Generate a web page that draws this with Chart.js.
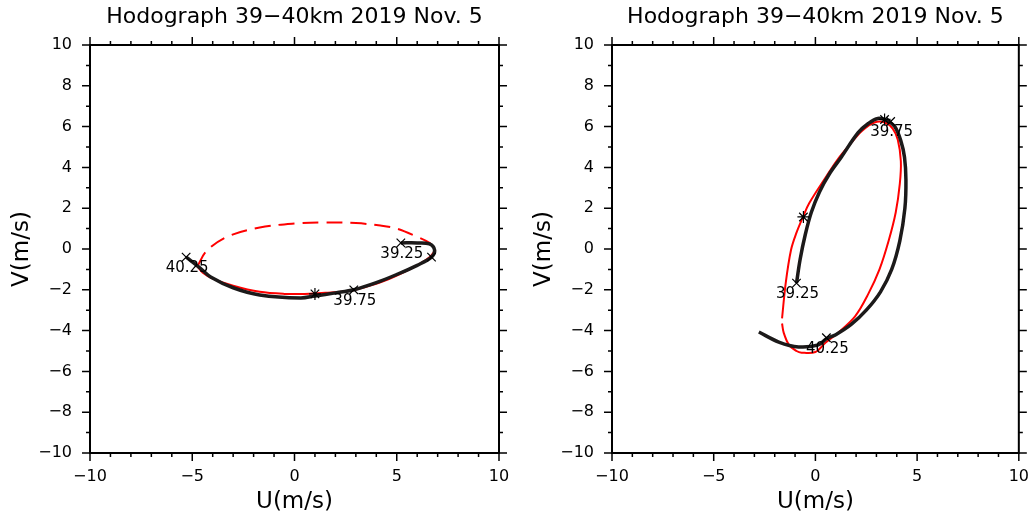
<!DOCTYPE html>
<html lang="en">
<head>
<meta charset="UTF-8">
<title>Hodograph 39-40km 2019 Nov. 5</title>
<script src="https://cdn.jsdelivr.net/npm/chart.js"></script>
<style>
  body { margin: 0; background: #fff; }
  #wrap { position: relative; width: 1035px; height: 517px; }
  #leftChart { position: absolute; left: 0; top: 0; }
  #rightChart { position: absolute; left: 517px; top: 0; }
</style>
</head>
<body>
<div id="wrap">
  <canvas id="leftChart" width="517" height="517"></canvas>
  <canvas id="rightChart" width="518" height="517"></canvas>
</div>
<script>
// ---- left panel ----
const leftBlackU = [5.2, 6.0, 6.6, 6.85, 6.7, 6.0, 5.0, 4.0, 2.9, 2.0, 1.0, 0.3, -1.7, -3.0, -4.1, -4.6, -5.3];
const leftBlackV = [0.3, 0.3, 0.25, -0.05, -0.4, -0.8, -1.25, -1.65, -2.0, -2.15, -2.3, -2.4, -2.25, -1.9, -1.37, -0.95, -0.4];
const leftRedSolidU = [6.9, 6.6, 6.0, 5.0, 4.3, 3.5, 2.7, 1.5, 0.5, -0.5, -1.7, -3.0, -4.0, -4.5, -4.75];
const leftRedSolidV = [-0.05, -0.4, -0.8, -1.3, -1.6, -1.85, -2.05, -2.15, -2.2, -2.2, -2.1, -1.8, -1.45, -1.15, -0.85];
const leftRedDashU = [-4.75, -4.3, -3.3, -1.7, 0.0, 1.4, 3.0, 4.2, 5.0, 6.0, 6.6, 6.9];
const leftRedDashV = [-0.85, -0.1, 0.6, 1.05, 1.25, 1.3, 1.27, 1.15, 1.0, 0.6, 0.3, -0.05];
const leftCrossU = [5.2, 6.7, 2.9, -5.3];
const leftCrossV = [0.3, -0.4, -2.0, -0.4];
const leftStarU = [1.0];
const leftStarV = [-2.2];
const leftLabelU = [5.2, 2.9, -5.3];
const leftLabelV = [0.3, -2.0, -0.4];
const leftLabels = ['39.25', '39.75', '40.25'];

// ---- right panel ----
const rightBlackU = [-0.93, -0.75, -0.5, -0.2, 0.2, 0.7, 1.27, 2.1, 2.6, 3.07, 3.5, 3.9, 4.2, 4.38, 4.45, 4.4, 4.15, 3.75, 3.2, 2.5, 1.76, 1.0, 0.54, 0.15, -0.83, -1.8, -2.78];
const rightBlackV = [-1.67, -0.5, 0.7, 1.8, 2.8, 3.7, 4.5, 5.7, 6.15, 6.4, 6.3, 6.0, 5.3, 4.5, 3.4, 2.0, 0.4, -1.0, -2.1, -3.0, -3.7, -4.2, -4.4, -4.7, -4.8, -4.56, -4.07];
const rightRedU = [-1.64, -1.56, -1.3, -0.93, -0.68, 0.0, 0.49, 1.12, 1.95, 2.6, 3.15, 3.6, 3.95, 4.15, 4.2, 4.05, 3.8, 3.41, 2.9, 2.3, 1.76, 1.1, 0.5, -0.3, -0.6, -0.93, -1.2, -1.46, -1.64];
const rightRedV = [-3.65, -4.1, -4.7, -5.0, -5.08, -5.05, -4.6, -4.1, -3.3, -2.2, -1.0, 0.4, 1.8, 3.2, 4.3, 5.35, 5.9, 6.2, 6.2, 5.8, 5.2, 4.4, 3.5, 2.25, 1.6, 0.8, -0.05, -1.67, -3.4];
const rightCrossU = [-0.93, 3.7, 0.54];
const rightCrossV = [-1.67, 6.25, -4.35];
const rightStarU = [-0.59, 3.4];
const rightStarV = [1.57, 6.35];
const rightLabelU = [-0.93, 3.7, 0.54];
const rightLabelV = [-1.67, 6.25, -4.35];
const rightLabels = ['39.25', '39.75', '40.25'];

const FONT = '"DejaVu Sans", sans-serif';

function pts(us, vs) {
  return us.map((u, i) => ({x: u, y: vs[i]}));
}

function fmt(v) {
  return v < 0 ? '\u2212' + Math.abs(v) : String(v);
}

// frame + outward tick marks on all four sides
const frameTicks = {
  id: 'frameTicks',
  afterDraw(chart) {
    const {ctx, chartArea: a, scales: {x, y}} = chart;
    ctx.save();
    ctx.strokeStyle = '#000';
    ctx.lineWidth = 1.5;
    ctx.beginPath();
    x.ticks.forEach(t => {
      const px = x.getPixelForValue(t.value);
      const len = t.value % 5 === 0 ? 8 : 4;
      ctx.moveTo(px, a.bottom); ctx.lineTo(px, a.bottom + len);
      ctx.moveTo(px, a.top); ctx.lineTo(px, a.top - len);
    });
    y.ticks.forEach(t => {
      const py = y.getPixelForValue(t.value);
      const len = t.value % 2 === 0 ? 8 : 4;
      ctx.moveTo(a.left, py); ctx.lineTo(a.left - len, py);
      ctx.moveTo(a.right, py); ctx.lineTo(a.right + len, py);
    });
    ctx.stroke();
    ctx.lineWidth = 2;
    ctx.strokeRect(a.left, a.top, a.right - a.left, a.bottom - a.top);
    ctx.restore();
  }
};

function labelPlugin(us, vs, texts) {
  return {
    id: 'heightLabels',
    afterDatasetsDraw(chart) {
      const {ctx, scales: {x, y}} = chart;
      ctx.save();
      ctx.font = '15px ' + FONT;
      ctx.fillStyle = '#000';
      ctx.textAlign = 'center';
      ctx.textBaseline = 'middle';
      texts.forEach((t, i) => {
        ctx.fillText(t, x.getPixelForValue(us[i]) + 1, y.getPixelForValue(vs[i]) + 11);
      });
      ctx.restore();
    }
  };
}

function makeOptions(yWidth, padRight, yTitlePad) {
  return {
    responsive: false,
    animation: false,
    devicePixelRatio: 1,
    layout: { padding: { left: 0, right: padRight, top: 0, bottom: 0 } },
    plugins: {
      legend: { display: false },
      tooltip: { enabled: false },
      title: {
        display: true,
        text: 'Hodograph 39\u221240km 2019 Nov. 5',
        fullSize: false,
        color: '#000',
        font: { family: FONT, size: 22, weight: 'normal' },
        padding: { top: 4, bottom: 14.6 }
      }
    },
    scales: {
      x: {
        type: 'linear',
        min: -10, max: 10,
        ticks: {
          stepSize: 1, autoSkip: false, maxRotation: 0, padding: 6, color: '#000',
          font: { family: FONT, size: 16 },
          callback: v => (v % 5 === 0 ? fmt(v) : '')
        },
        grid: { drawOnChartArea: false, tickLength: 8, tickColor: 'rgba(0,0,0,0)' },
        border: { display: false },
        title: {
          display: true, text: 'U(m/s)', color: '#000',
          font: { family: FONT, size: 23 },
          padding: { top: 0, bottom: 1 }
        },
        afterFit(s) { s.height = 64; }
      },
      y: {
        type: 'linear',
        min: -10, max: 10,
        ticks: {
          stepSize: 1, autoSkip: false, padding: 10, color: '#000',
          font: { family: FONT, size: 16 },
          callback: v => (v % 2 === 0 ? fmt(v) : '')
        },
        grid: { drawOnChartArea: false, tickLength: 8, tickColor: 'rgba(0,0,0,0)' },
        border: { display: false },
        title: {
          display: true, text: 'V(m/s)', color: '#000',
          font: { family: FONT, size: 23 },
          padding: { top: yTitlePad, bottom: 0 }
        },
        afterFit(s) { s.width = yWidth; }
      }
    }
  };
}

function markerSet(us, vs, style) {
  return {
    data: pts(us, vs), showLine: false, pointStyle: style,
    pointRadius: 6, pointBorderWidth: 1.2, borderColor: '#000', backgroundColor: '#000'
  };
}

function curveSet(us, vs, color, width, dash) {
  return {
    data: pts(us, vs), showLine: true, pointRadius: 0, borderColor: color,
    borderWidth: width, borderDash: dash || [], tension: 0.35, fill: false
  };
}

new Chart(document.getElementById('leftChart'), {
  type: 'scatter',
  data: {
    datasets: [
      markerSet(leftCrossU, leftCrossV, 'crossRot'),
      markerSet(leftStarU, leftStarV, 'star'),
      curveSet(leftBlackU, leftBlackV, '#1c1a1a', 3.5),
      curveSet(leftRedSolidU, leftRedSolidV, '#ff0000', 2),
      curveSet(leftRedDashU, leftRedDashV, '#ff0000', 2, [16, 8])
    ]
  },
  options: makeOptions(90, 18, 8.2),
  plugins: [frameTicks, labelPlugin(leftLabelU, leftLabelV, leftLabels)]
});

new Chart(document.getElementById('rightChart'), {
  type: 'scatter',
  data: {
    datasets: [
      markerSet(rightCrossU, rightCrossV, 'crossRot'),
      markerSet(rightStarU, rightStarV, 'star'),
      curveSet(rightBlackU, rightBlackV, '#1c1a1a', 3.5),
      curveSet(rightRedU, rightRedV, '#ff0000', 2)
    ]
  },
  options: makeOptions(95, 13, 13.2),
  plugins: [frameTicks, labelPlugin(rightLabelU, rightLabelV, rightLabels)]
});
</script>
</body>
</html>
